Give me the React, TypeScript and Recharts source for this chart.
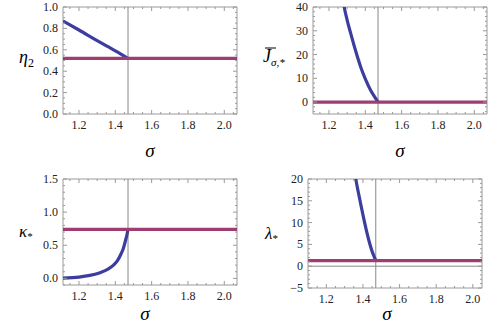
import { LineChart, Line, XAxis, YAxis, ReferenceLine, ReferenceArea } from "recharts";

// critical sigma where the two branches meet
const SIGMA_C = 1.47;

// shared sigma ticks
const xMajor = [1.2, 1.4, 1.6, 1.8, 2.0];

// panel 1: eta_2
const eta2Sigma = [1.112, 1.2, 1.3, 1.4, 1.47];
const eta2Values = [0.87, 0.785, 0.685, 0.59, 0.52];
const eta2Flat = 0.52;
const eta2Major = [0, 0.2, 0.4, 0.6, 0.8, 1.0];

// panel 2: J-bar
const jSigma = [1.276, 1.284, 1.3, 1.32, 1.345, 1.375, 1.4, 1.43, 1.455, 1.47];
const jValues = [44, 40, 34.5, 28.8, 22, 14.7, 9.8, 4.9, 1.8, 0];
const jFlat = 0;
const jMajor = [0, 10, 20, 30, 40];

// panel 3: kappa_*
const kappaSigma = [1.112, 1.2, 1.26, 1.32, 1.36, 1.39, 1.41, 1.43, 1.445, 1.455, 1.465, 1.47];
const kappaValues = [0.005, 0.02, 0.045, 0.09, 0.14, 0.2, 0.26, 0.36, 0.46, 0.56, 0.67, 0.74];
const kappaFlat = 0.74;
const kappaMajor = [0, 0.5, 1.0, 1.5];

// panel 4: lambda_*
const lambdaSigma = [1.355, 1.362, 1.375, 1.39, 1.405, 1.42, 1.435, 1.45, 1.46, 1.47];
const lambdaValues = [22, 19.8, 16.9, 13.8, 10.8, 8.0, 5.5, 3.4, 2.3, 1.3];
const lambdaFlat = 1.3;
const lambdaMajor = [-5, 0, 5, 10, 15, 20];

const BLUE = "#3d3da0";
const MAGENTA = "#9e3d72";
const FRAME = "#9a9a9a";
const FONT = '"Liberation Serif"';
const serif = { fontFamily: FONT };

type Box = { left: number; right: number; top: number; bottom: number };

const near = (a: number, b: number) => Math.abs(a - b) < 1e-6;

function minorTicks(lo: number, hi: number, step: number, majors: number[]) {
  const out: number[] = [];
  const n = Math.round((hi - lo) / step);
  for (let i = 0; i <= n; i++) {
    const v = +(lo + i * step).toFixed(4);
    if (!majors.some((m) => near(m, v))) out.push(v);
  }
  return out;
}

function XTick(props: any) {
  const { x, payload, box, majors } = props;
  const v = payload.value;
  const major = majors.some((m: number) => near(m, v));
  const len = major ? 4 : 2;
  return (
    <g>
      <line x1={x} x2={x} y1={box.bottom} y2={box.bottom - len} stroke={FRAME} />
      <line x1={x} x2={x} y1={box.top} y2={box.top + len} stroke={FRAME} />
      {major && (
        <text x={x} y={box.bottom + 15} textAnchor="middle" fontSize={12} style={serif} fill="#222">
          {v.toFixed(1)}
        </text>
      )}
    </g>
  );
}

function YTick(props: any) {
  const { y, payload, box, majors, fmt } = props;
  const v = payload.value;
  const major = majors.some((m: number) => near(m, v));
  const len = major ? 4 : 2;
  return (
    <g>
      <line x1={box.left} x2={box.left + len} y1={y} y2={y} stroke={FRAME} />
      <line x1={box.right} x2={box.right - len} y1={y} y2={y} stroke={FRAME} />
      {major && (
        <text x={box.left - 5} y={y + 4} textAnchor="end" fontSize={12} style={serif} fill="#222">
          {fmt(v)}
        </text>
      )}
    </g>
  );
}

function Panel({
  box, xDomain, yDomain, sigma, values, flat, yMajor, yStep, fmt, zeroAxis,
}: {
  box: Box; xDomain: [number, number]; yDomain: [number, number];
  sigma: number[]; values: number[]; flat: number; yMajor: number[]; yStep: number;
  fmt: (v: number) => string; zeroAxis?: boolean;
}) {
  const blue = sigma.map((s, i) => ({ s, v: values[i] }));
  const magenta = [{ s: xDomain[0], v: flat }, { s: xDomain[1], v: flat }];
  const xTicks = [...xMajor, ...minorTicks(1.1, 2.1, 0.05, xMajor)]
    .filter((t) => t > xDomain[0] + 1e-6 && t < xDomain[1] - 1e-6)
    .sort((a, b) => a - b);
  const yTicks = [...yMajor, ...minorTicks(yMajor[0], yMajor[yMajor.length - 1], yStep, yMajor), ...minorTicks(yMajor[0] - yStep * 10, yMajor[0], yStep, yMajor)]
    .filter((t) => t >= yDomain[0] - 1e-6 && t <= yDomain[1] + 1e-6)
    .sort((a, b) => a - b);
  return (
    <LineChart width={250} height={164} margin={{ top: box.top, right: 250 - box.right, left: 0, bottom: 0 }}>
      <XAxis
        type="number"
        dataKey="s"
        domain={xDomain}
        allowDataOverflow
        ticks={xTicks}
        interval={0}
        tickLine={false}
        axisLine={false}
        height={164 - box.bottom}
        tick={<XTick box={box} majors={xMajor} />}
      />
      <YAxis
        type="number"
        dataKey="v"
        domain={yDomain}
        allowDataOverflow
        ticks={yTicks}
        interval={0}
        tickLine={false}
        axisLine={false}
        width={box.left}
        tick={<YTick box={box} majors={yMajor} fmt={fmt} />}
      />
      <ReferenceArea x1={xDomain[0]} x2={xDomain[1]} y1={yDomain[0]} y2={yDomain[1]} fill="none" stroke={FRAME} strokeWidth={1} />
      {zeroAxis && <ReferenceLine y={0} stroke="#888" strokeWidth={1} />}
      <ReferenceLine x={SIGMA_C} stroke="#888" strokeWidth={1} />
      <Line data={blue} dataKey="v" type="monotone" stroke={BLUE} strokeWidth={3.2} dot={false} isAnimationActive={false} />
      <Line data={magenta} dataKey="v" type="linear" stroke={MAGENTA} strokeWidth={3.2} dot={false} isAnimationActive={false} />
    </LineChart>
  );
}

const fmt1 = (v: number) => v.toFixed(1);
const fmtInt = (v: number) => (v < 0 ? "\u2212" + Math.abs(v) : String(v));

export default function App() {
  return (
    <div style={{ position: "absolute", left: 0, top: 0, width: 500, height: 328, background: "#fff" }}>
      <div style={{ position: "absolute", left: 0, top: 0 }}>
        <Panel box={{ left: 63, right: 237, top: 7, bottom: 114 }} xDomain={[1.112, 2.07]} yDomain={[0, 1]}
          sigma={eta2Sigma} values={eta2Values} flat={eta2Flat} yMajor={eta2Major} yStep={0.05} fmt={fmt1} />
      </div>
      <div style={{ position: "absolute", left: 250, top: 0 }}>
        <Panel box={{ left: 63, right: 237, top: 7, bottom: 114 }} xDomain={[1.112, 2.07]} yDomain={[-5, 40]}
          sigma={jSigma} values={jValues} flat={jFlat} yMajor={jMajor} yStep={2} fmt={fmtInt} zeroAxis />
      </div>
      <div style={{ position: "absolute", left: 0, top: 164 }}>
        <Panel box={{ left: 63, right: 237, top: 15, bottom: 121 }} xDomain={[1.112, 2.07]} yDomain={[-0.1, 1.5]}
          sigma={kappaSigma} values={kappaValues} flat={kappaFlat} yMajor={kappaMajor} yStep={0.1} fmt={fmt1} />
      </div>
      <div style={{ position: "absolute", left: 250, top: 164 }}>
        <Panel box={{ left: 58, right: 232, top: 15, bottom: 124 }} xDomain={[1.1, 2.05]} yDomain={[-5, 20]}
          sigma={lambdaSigma} values={lambdaValues} flat={lambdaFlat} yMajor={lambdaMajor} yStep={1} fmt={fmtInt} zeroAxis />
      </div>
      <svg width={500} height={328} style={{ position: "absolute", left: 0, top: 0, pointerEvents: "none" }}>
        {/* axis titles */}
        <text x={150} y={157} textAnchor="middle" fontSize={19} fontStyle="italic" style={serif}>σ</text>
        <text x={400} y={157} textAnchor="middle" fontSize={19} fontStyle="italic" style={serif}>σ</text>
        <text x={145} y={320} textAnchor="middle" fontSize={19} fontStyle="italic" style={serif}>σ</text>
        <text x={387} y={320} textAnchor="middle" fontSize={19} fontStyle="italic" style={serif}>σ</text>
        <text x={19} y={63} fontSize={18} fontStyle="italic" style={serif}>
          η<tspan fontSize={12} fontStyle="normal" dy={4}>2</tspan>
        </text>
        <text x={263} y={62} fontSize={18} fontStyle="italic" style={serif}>
          J<tspan fontSize={11} dy={4}>σ,*</tspan>
        </text>
        <line x1={265} x2={276} y1={48} y2={48} stroke="#000" strokeWidth={1} />
        <text x={19} y={237} fontSize={17} fontStyle="italic" style={serif}>
          κ<tspan fontSize={11} fontStyle="normal" dy={3}>*</tspan>
        </text>
        <text x={265} y={239} fontSize={17} fontStyle="italic" style={serif}>
          λ<tspan fontSize={11} fontStyle="normal" dy={3}>*</tspan>
        </text>
      </svg>
    </div>
  );
}
